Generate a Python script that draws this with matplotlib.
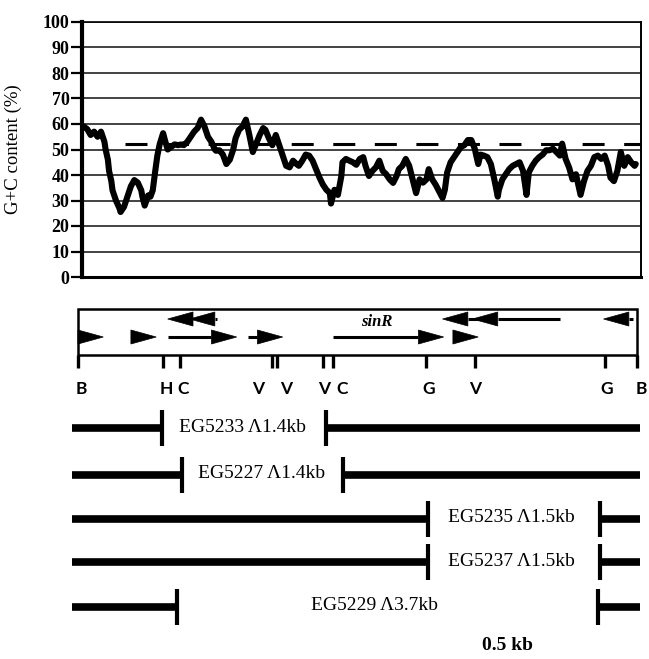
import matplotlib
matplotlib.use("Agg")
import matplotlib.pyplot as plt
from matplotlib.patches import Polygon, Rectangle

# ---------------- data ----------------
# G+C content profile (position along map in kb, % G+C)
gc_pos_kb = [0.05, 0.08, 0.11, 0.14, 0.17, 0.20, 0.23, 0.24, 0.26, 0.27, 0.29, 0.30,
             0.33, 0.36, 0.37, 0.40, 0.43, 0.46, 0.49, 0.52, 0.55, 0.56, 0.58, 0.61,
             0.63, 0.65, 0.67, 0.69, 0.71, 0.74, 0.76, 0.78, 0.81, 0.84, 0.87, 0.90,
             0.92, 0.95, 0.98, 1.01, 1.04, 1.07, 1.10, 1.13, 1.16, 1.19,
             1.20, 1.23, 1.26, 1.29, 1.32, 1.35, 1.37, 1.40, 1.43, 1.46, 1.49, 1.52,
             1.55, 1.58, 1.61, 1.63, 1.66, 1.69, 1.72, 1.75, 1.78, 1.81, 1.84, 1.87,
             1.90, 1.92, 1.95, 1.98, 2.01, 2.04, 2.07, 2.10, 2.13, 2.16, 2.19, 2.20,
             2.23, 2.26, 2.29, 2.30, 2.33, 2.36, 2.39,
             2.42, 2.45, 2.48, 2.50, 2.53, 2.56, 2.59, 2.62, 2.65, 2.68, 2.71, 2.74,
             2.77, 2.79, 2.82, 2.85, 2.88, 2.91, 2.94, 2.97, 3.00, 3.03, 3.05, 3.08,
             3.11, 3.14, 3.17, 3.19, 3.21, 3.24, 3.27, 3.30, 3.33, 3.36, 3.39, 3.42,
             3.45, 3.48, 3.50, 3.53, 3.56, 3.59, 3.62, 3.65,
             3.66, 3.69, 3.72, 3.75, 3.78, 3.81, 3.84, 3.87, 3.90, 3.92, 3.95, 3.98,
             4.01, 4.04, 4.07, 4.10, 4.13, 4.16, 4.19, 4.21, 4.24, 4.27, 4.30, 4.33,
             4.36, 4.37, 4.40, 4.43, 4.46, 4.49, 4.52, 4.55, 4.58, 4.61, 4.63, 4.66,
             4.69, 4.72, 4.75, 4.78, 4.81, 4.84, 4.85]
gc_percent = [59, 58, 55.7, 57, 55, 57, 53, 50, 46, 41.6, 37.6, 34,
              30, 27, 25.5, 27.5, 31.5, 35.6, 38, 37, 34, 31.5, 28, 32,
              31.5, 34, 41, 47.6, 52, 56.4, 53, 50, 51, 52, 51.7, 52,
              51.7, 53, 55, 57, 58.4, 61.7, 59, 55, 53, 50,
              49.5, 49.7, 48, 44.3, 46, 50, 54.4, 57.7, 59, 61.7, 55.7, 49,
              52.3, 55.7, 58.4, 57.7, 54.4, 51.7, 55.7, 51.7, 47.6, 43.6, 43, 45.6,
              44.3, 43.6, 45.6, 48, 47.6, 45.6, 42.3, 39, 36.2, 34.2, 32.9, 28.8,
              34.2, 32.2, 39.6, 45, 46.3, 45.6, 45,
              44, 46.3, 47, 43.6, 39.6, 41.6, 43, 45.6, 41.6, 40.3, 38.3, 36.9,
              39.6, 42.3, 43.6, 46.3, 43.6, 38.3, 32.9, 38.3, 37, 38.3, 42.3, 38.3,
              36.2, 33.6, 31, 34.2, 41, 45, 47, 49, 51, 51.7, 53.7, 53.7,
              50.3, 44.3, 48, 47.6, 47, 44.3, 38.3, 31.5,
              34.2, 38.3, 40.3, 42.3, 43.6, 44.3, 45, 41.6, 32.2, 41, 43.6, 45.6,
              47, 48, 49.7, 49.7, 50.3, 49, 47.6, 52.3, 46.3, 43, 38.3, 40.3,
              34.2, 32.2, 37.6, 41.6, 43.6, 47, 47.6, 46.3, 47.6, 43.6, 39, 37.6,
              41.6, 49, 43.6, 47, 45, 43.6, 44.3]
mean_gc = 52
mean_line_start_kb = 0.41
gc_yticks = [0, 10, 20, 30, 40, 50, 60, 70, 80, 90, 100]

# restriction map
map_end_kb = 4.86
site_pos_kb = [0.0, 0.74, 0.89, 1.69, 1.73, 2.13, 2.22, 3.03, 3.45, 4.58, 4.86]
site_labels = ['B', 'H', 'C', 'V', 'V', 'V', 'C', 'G', 'V', 'G', 'B']
site_label_kb = [0.03, 0.77, 0.91, 1.57, 1.81, 2.14, 2.30, 3.05, 3.45, 4.60, 4.90]

# genes (arrows): forward (lower row) and reverse (upper row)
fwd_tail_kb = [0.00, 0.47, 0.78, 1.48, 2.22, 3.26]
fwd_tip_kb = [0.22, 0.68, 1.38, 1.78, 3.18, 3.48]
rev_tail_kb = [1.21, 1.00, 3.50, 4.19, 4.83]
rev_tip_kb = [0.97, 0.78, 3.17, 3.43, 4.57]
gene_label = 'sinR'
gene_label_kb = 2.60

# deletion constructs
del_names = ['EG5233 Λ1.4kb', 'EG5227 Λ1.4kb', 'EG5235 Λ1.5kb',
             'EG5237 Λ1.5kb', 'EG5229 Λ3.7kb']
del_left_kb = [0.73, 0.90, 3.04, 3.04, 0.86]
del_right_kb = [2.16, 2.30, 4.54, 4.54, 4.52]
del_label_kb = [1.43, 1.60, 3.77, 3.77, 2.58]
clone_start_kb = -0.05
clone_end_kb = 4.89
scale_text = '0.5 kb'
scale_text_kb = 3.73

# ---------------- figure ----------------
W, H = 649, 659
fig = plt.figure(figsize=(W / 100, H / 100), dpi=100)
px_per_kb = 115.0
x0_px = 78.0


def kb_lim(px_left, px_right):
    return ((px_left - x0_px) / px_per_kb, (px_right - x0_px) / px_per_kb)


serif = 'Liberation Serif'
sans = 'Lato'

# ---- G+C content panel ----
L, R, T, B = 82, 641, 22, 277
ax = fig.add_axes([L / W, 1 - B / H, (R - L) / W, (B - T) / H])
ax.set_xlim(*kb_lim(L, R))
ax.set_ylim(0, 100)
ax.set_yticks(gc_yticks)
ax.set_yticklabels([str(v) for v in gc_yticks], fontfamily=serif,
                   fontweight='bold', fontsize=13)
ax.set_xticks([])
ax.yaxis.grid(True, color='#222222', lw=1.2)
ax.set_axisbelow(True)
ax.tick_params(axis='y', direction='out', length=8, width=1.6, pad=1)
for side, lw in (('left', 3.0), ('bottom', 2.2), ('right', 1.4), ('top', 1.2)):
    ax.spines[side].set_linewidth(lw)
    ax.spines[side].set_color('black')
ax.plot([mean_line_start_kb, kb_lim(L, R)[1]], [mean_gc, mean_gc],
        color='black', lw=2.2, ls=(0, (7.2, 6.4)), zorder=2, clip_on=False)
ax.plot(gc_pos_kb, gc_percent, color='black', lw=4.4, zorder=3,
        solid_joinstyle='round', solid_capstyle='round')
ax.set_ylabel('G+C content (%)', fontfamily=serif, fontsize=13.5)
ax.yaxis.set_label_coords((22 - L) / (R - L), 0.5)

# ---- map panel (x in kb, y in pixels) ----
am = fig.add_axes([0, 0, 1, 1])
am.set_xlim(*kb_lim(0, W))
am.set_ylim(H, 0)
am.axis('off')
am.patch.set_alpha(0)

box_top, box_bot = 309, 355
am.add_patch(Rectangle((0, box_top), map_end_kb, box_bot - box_top,
                       fill=False, lw=1.8, ec='black'))
for x in site_pos_kb:
    am.plot([x, x], [box_bot, 368], color='black', lw=2.4, solid_capstyle='butt')
for x, s in zip(site_label_kb, site_labels):
    am.text(x, 389, s, ha='center', va='center', fontfamily=sans,
            fontweight='bold', fontsize=12.5, color='black')

head_len = 0.22
head_half = 7


def gene_arrow(tail, tip, y):
    d = 1 if tip > tail else -1
    base = tip - d * head_len
    if abs(tip - tail) > head_len:
        am.plot([tail, base], [y, y], color='black', lw=2.2, solid_capstyle='butt')
    am.add_patch(Polygon([(tip, y), (base, y - head_half), (base, y + head_half)],
                         closed=True, fc='black', ec='black', lw=0.5))


for t, p in zip(fwd_tail_kb, fwd_tip_kb):
    gene_arrow(t, p, 337)
for t, p in zip(rev_tail_kb, rev_tip_kb):
    gene_arrow(t, p, 319)
am.text(gene_label_kb, 322, gene_label, ha='center', va='center',
        fontfamily=serif, fontstyle='italic', fontweight='bold', fontsize=12)

row_y = [428, 475, 519, 562, 607]
for y, name, lft, rgt, lx in zip(row_y, del_names, del_left_kb, del_right_kb, del_label_kb):
    am.plot([clone_start_kb, lft], [y, y], color='black', lw=5.5, solid_capstyle='butt')
    am.plot([rgt, clone_end_kb], [y, y], color='black', lw=5.5, solid_capstyle='butt')
    for x in (lft, rgt):
        am.plot([x, x], [y - 18, y + 18], color='black', lw=3.0, solid_capstyle='butt')
    am.text(lx, y - 1, name, ha='center', va='center', fontfamily=serif,
            fontsize=14, color='black')
am.text(scale_text_kb, 645, scale_text, ha='center', va='center',
        fontfamily=serif, fontweight='bold', fontsize=14)

fig.savefig('out.png', dpi=100)
